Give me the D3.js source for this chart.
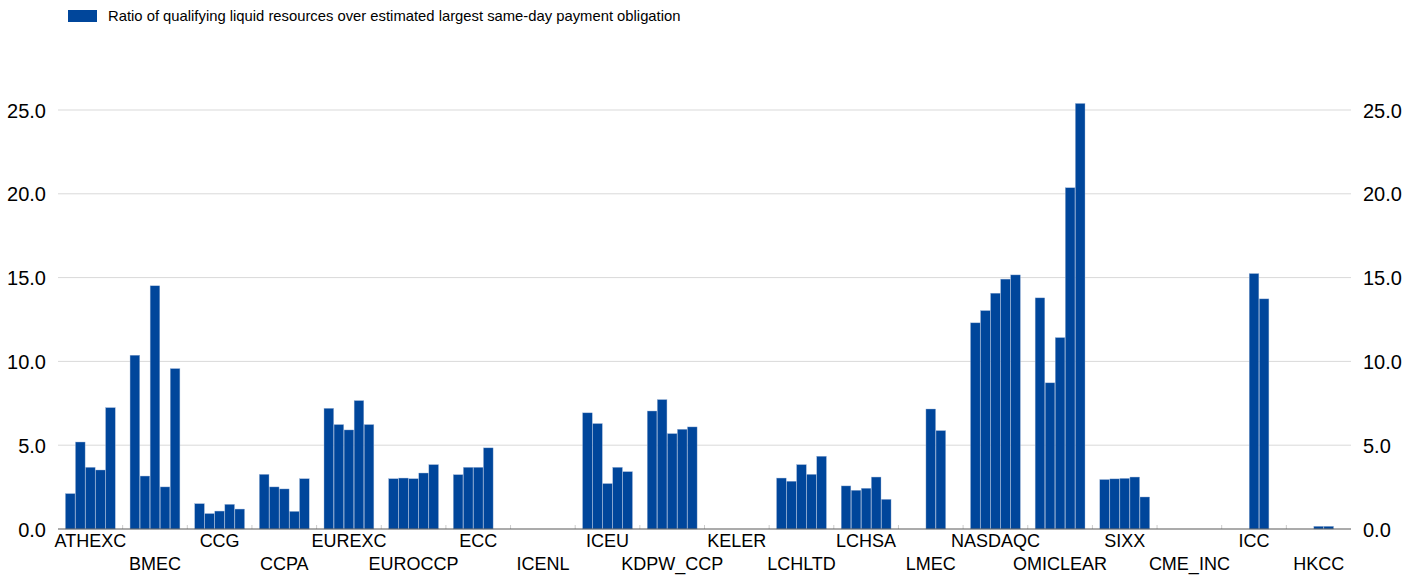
<!DOCTYPE html>
<html>
<head>
<meta charset="utf-8">
<script src="https://cdn.jsdelivr.net/npm/d3@7"></script>
<style>
  body { margin: 0; background: #fff; overflow: hidden; }
  text { font-family: "Liberation Sans", Arial, sans-serif; fill: #000; }
</style>
</head>
<body>
<div id="chart"></div>
<script>
const categories = ["ATHEXC", "BMEC", "CCG", "CCPA", "EUREXC", "EUROCCP", "ECC", "ICENL", "ICEU", "KDPW_CCP",
    "KELER", "LCHLTD", "LCHSA", "LMEC", "NASDAQC", "OMICLEAR", "SIXX", "CME_INC", "ICC", "HKCC"];

// one array per bar position inside each category group
const series1 = [2.11, 10.37, 1.51, 3.26, 7.20, 3.00, 3.24, null, 6.93, 7.04, null, 3.04, 2.57, null, 12.30, 13.79, 2.95, null, null, null];
const series2 = [5.19, 3.16, 0.92, 2.51, 6.23, 3.04, 3.68, null, 6.29, 7.72, null, 2.85, 2.31, null, 13.03, 8.72, 2.99, null, null, null];
const series3 = [3.68, 14.51, 1.07, 2.39, 5.91, 3.00, 3.68, null, 2.71, 5.69, null, 3.84, 2.43, 7.16, 14.07, 11.42, 3.02, null, 15.24, 0.16];
const series4 = [3.52, 2.51, 1.47, 1.05, 7.66, 3.34, 4.84, null, 3.68, 5.95, null, 3.26, 3.10, 5.87, 14.91, 20.36, 3.10, null, 13.73, 0.16];
const series5 = [7.24, 9.57, 1.19, 3.00, 6.23, 3.84, null, null, 3.42, 6.09, null, 4.34, 1.77, null, 15.16, 25.39, 1.91, null, null, null];

const yTicks = [0, 5, 10, 15, 20, 25];
const legendLabel = "Ratio of qualifying liquid resources over estimated largest same-day payment obligation";

const allSeries = [series1, series2, series3, series4, series5];

const width = 1423, height = 576;
const margin = {top: 110, left: 58, bottom: 47, right: 72};
const innerWidth = width - margin.left - margin.right;
const innerHeight = height - margin.top - margin.bottom;
const barColor = "#00469b";

const svg = d3.select("#chart").append("svg")
    .attr("width", width)
    .attr("height", height)
    .style("display", "block");

// legend
const legend = svg.append("g").attr("transform", "translate(68,10)");
legend.append("rect")
    .attr("width", 29)
    .attr("height", 12)
    .attr("fill", barColor);
legend.append("text")
    .attr("x", 40)
    .attr("y", 11)
    .style("font-size", "14.8px")
    .text(legendLabel);

const g = svg.append("g")
    .attr("transform", "translate(" + margin.left + "," + margin.top + ")");

const xScale = d3.scaleBand()
    .domain(categories)
    .range([0, innerWidth])
    .padding(0);

const subScale = d3.scaleBand()
    .domain(d3.range(allSeries.length))
    .range([7, xScale.bandwidth() - 7])
    .padding(0.04);

const yScale = d3.scaleLinear()
    .domain([0, 25])
    .range([innerHeight, 0]);

// gridlines
g.append("g")
    .selectAll("line")
    .data(yTicks.filter(d => d > 0))
    .enter()
    .append("line")
    .attr("x1", 0)
    .attr("x2", innerWidth)
    .attr("y1", d => yScale(d))
    .attr("y2", d => yScale(d))
    .attr("stroke", "#d9d9d9")
    .attr("stroke-width", 1);

// y axes, left and right
const yLeft = g.append("g")
    .call(d3.axisLeft(yScale).tickValues(yTicks).tickFormat(d3.format(".1f")).tickSize(0).tickPadding(12));
const yRight = g.append("g")
    .attr("transform", "translate(" + innerWidth + ",0)")
    .call(d3.axisRight(yScale).tickValues(yTicks).tickFormat(d3.format(".1f")).tickSize(0).tickPadding(12));
[yLeft, yRight].forEach(a => {
    a.select(".domain").remove();
    a.selectAll("text").style("font-size", "20px").attr("dy", "0.35em");
});

// category boundary ticks
g.append("g")
    .selectAll("line")
    .data(categories.slice(1))
    .enter()
    .append("line")
    .attr("x1", d => xScale(d))
    .attr("x2", d => xScale(d))
    .attr("y1", innerHeight)
    .attr("y2", innerHeight - 4)
    .attr("stroke", "#cccccc");

// bars
const barData = [];
categories.forEach((c, i) => {
    allSeries.forEach((s, j) => {
        if (s[i] != null) barData.push({cat: c, idx: j, value: s[i]});
    });
});

g.append("g")
    .selectAll("rect")
    .data(barData)
    .enter()
    .append("rect")
    .attr("x", d => xScale(d.cat) + subScale(d.idx))
    .attr("width", subScale.bandwidth())
    .attr("y", d => yScale(d.value))
    .attr("height", d => innerHeight - yScale(d.value))
    .attr("fill", barColor)
    .attr("stroke", "#9db5d8")
    .attr("stroke-width", 0.4);

// x axis line
g.append("line")
    .attr("x1", 0)
    .attr("x2", innerWidth)
    .attr("y1", innerHeight)
    .attr("y2", innerHeight)
    .attr("stroke", "#595959")
    .attr("stroke-width", 1.2);

// x labels alternating rows
const xAxis = g.append("g")
    .attr("transform", "translate(0," + innerHeight + ")")
    .call(d3.axisBottom(xScale).tickSize(0).tickPadding(0));
xAxis.select(".domain").remove();
xAxis.selectAll("text")
    .style("font-size", "18px")
    .attr("dy", null)
    .attr("y", (d, i) => i % 2 === 0 ? 18 : 41);
</script>
</body>
</html>
